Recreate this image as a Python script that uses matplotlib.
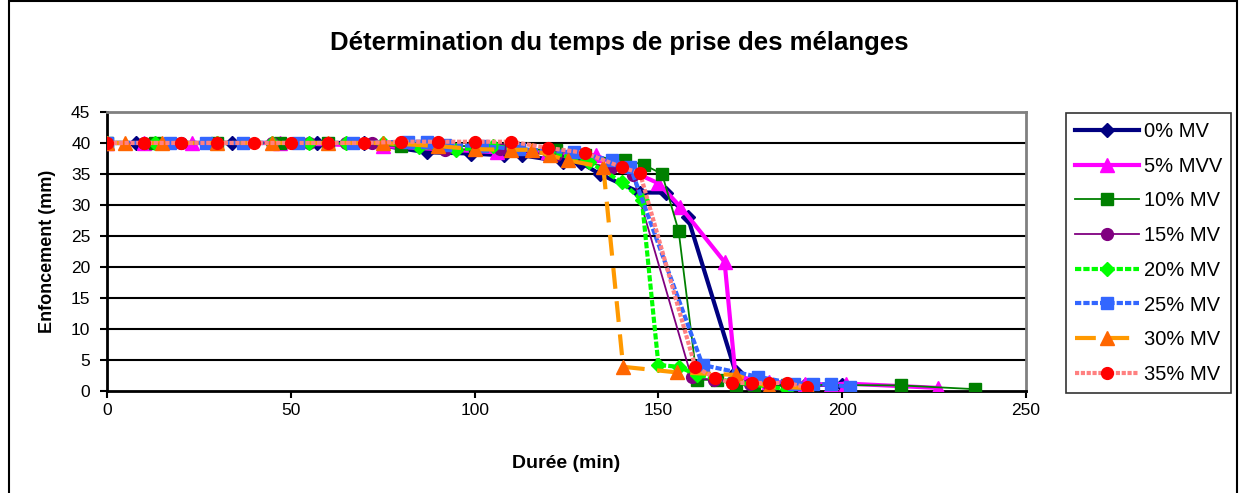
import matplotlib
matplotlib.use("Agg")
import matplotlib.pyplot as plt
import matplotlib.patches as patches

plt.rcParams['font.family'] = ['Liberation Sans', 'DejaVu Sans']

# Durée (min) / Enfoncement (mm) par mélange
t_0 = [0, 8, 34, 57, 70, 87, 99, 108, 113, 124, 129, 134, 145, 152, 158, 171, 175, 180, 185, 190, 200]
v_0 = [40, 40, 40, 40, 40, 38.5, 38.3, 38, 38, 37, 36.8, 35, 32, 32, 28, 3, 1.5, 1.2, 1, 1, 1]

t_5 = [0, 10, 23, 47, 75, 106, 120, 133, 150, 156, 168, 171, 180, 190, 197, 201, 226]
v_5 = [40, 40, 40, 40, 39.5, 38.5, 38.5, 38, 33.5, 29.7, 20.8, 2.3, 1.5, 1.2, 1, 1.2, 0.5]

t_10 = [0, 13, 30, 47, 60, 80, 100, 110, 122, 130, 141, 146, 151, 155.5, 160.5, 166, 171, 176, 185, 216, 236]
v_10 = [40, 40, 40, 40, 40, 39.5, 39.5, 39, 38.9, 38, 37.2, 36.5, 35, 25.8, 1.8, 1.8, 1, 1, 1, 0.9, 0.3]

t_15 = [0, 10, 20, 30, 45, 55, 65, 72, 92, 107, 122, 137, 143, 159, 165, 170, 175, 180]
v_15 = [40, 40, 40, 40, 40, 40, 40, 40, 38.9, 39, 38, 36, 34.8, 2.2, 1.8, 1.5, 1.2, 1]

t_20 = [0, 13, 30, 45, 55, 65, 75, 85, 95, 105, 120, 131, 140, 145.5, 150, 155.5, 160.5, 170, 185]
v_20 = [40, 40, 40, 40, 40, 40, 40, 39.4, 38.9, 39.5, 38.5, 37, 33.7, 30.8, 4.2, 3.9, 2.6, 1.5, 0.3]

t_25 = [0, 17, 27, 37, 52, 67, 82, 87, 92, 102, 112, 127, 137.5, 142.3, 162, 177, 187, 192, 197, 202]
v_25 = [40, 40, 40, 40, 40, 40, 40.2, 40.2, 39.7, 39.5, 39, 38.5, 37.2, 36.2, 4.2, 2.3, 1.2, 1.1, 1.1, 0.6]

t_30 = [0, 5, 15, 30, 45, 60, 75, 90, 100, 110, 115.5, 120.5, 125.4, 135, 140.4, 155, 171, 180, 190.7]
v_30 = [40, 40, 40, 40, 40, 40, 40, 39.5, 39, 38.9, 38.9, 38, 37.2, 36.1, 3.9, 3, 2.6, 0.7, 0.5]

t_35 = [0, 10, 20, 30, 40, 50, 60, 70, 80, 90, 100, 110, 120, 130, 140, 145, 160, 165.4, 170, 175.5, 180, 185, 190.4]
v_35 = [40, 40, 40, 40, 40, 40, 40, 40, 40.2, 40.2, 40.2, 40.2, 39.2, 38.4, 36.1, 35.1, 3.9, 2.1, 1.3, 1.3, 1.3, 1.3, 0.6]

labels = ["0% MV", "5% MVV", "10% MV", "15% MV", "20% MV", "25% MV", "30% MV", "35% MV"]
x_ticks = [0, 50, 100, 150, 200, 250]
y_ticks = [0, 5, 10, 15, 20, 25, 30, 35, 40, 45]

fig = plt.figure(figsize=(12.39, 4.93), dpi=100)
ax = fig.add_axes([0.0864, 0.2069, 0.7417, 0.566])

# horizontal gridlines in black
for y in y_ticks[1:-1]:
    ax.axhline(y, color='black', linewidth=1.5, zorder=1)

ax.plot(t_0, v_0, color='#000080', linewidth=3, marker='D', markersize=7.5, label=labels[0], zorder=3)
ax.plot(t_5, v_5, color='#FF00FF', linewidth=3, marker='^', markersize=9.5, label=labels[1], zorder=3)
ax.plot(t_10, v_10, color='#008000', linewidth=1.3, marker='s', markersize=8.5, label=labels[2], zorder=3)
ax.plot(t_15, v_15, color='#800080', linewidth=1.3, marker='o', markersize=8.5, label=labels[3], zorder=3)
ax.plot(t_20, v_20, color='#00FF00', linewidth=3, linestyle=(0, (1.5, 0.5)), marker='D', markersize=7.5,
        label=labels[4], zorder=3)
ax.plot(t_25, v_25, color='#3366FF', linewidth=3, linestyle=(0, (1.5, 0.5)), marker='s', markersize=8.5,
        label=labels[5], zorder=3)
ax.plot(t_30, v_30, color='#FF9900', linewidth=3, linestyle=(0, (5, 3)), marker='^', markersize=9.5,
        markerfacecolor='#FF6600', markeredgecolor='#FF6600', label=labels[6], zorder=3)
ax.plot(t_35, v_35, color='#FF8080', linewidth=3, linestyle=(0, (1, 0.4)), marker='o', markersize=8.5,
        markerfacecolor='#FF0000', markeredgecolor='#FF0000', label=labels[7], zorder=4)

ax.set_xlim(0, 250)
ax.set_ylim(0, 45)
ax.set_xticks(x_ticks)
ax.set_yticks(y_ticks)
ax.tick_params(labelsize=12.5, direction='out', length=5, width=1.5)
ax.tick_params(axis='y', pad=7)
for side in ['top', 'right']:
    ax.spines[side].set_color('#808080')
    ax.spines[side].set_linewidth(2)
for side in ['left', 'bottom']:
    ax.spines[side].set_color('black')
    ax.spines[side].set_linewidth(2)

ax.set_xlabel("Durée (min)", fontsize=14, fontweight='bold', labelpad=27)
ax.set_ylabel("Enfoncement (mm)", fontsize=13, fontweight='bold', labelpad=11)
fig.text(0.5, 0.912, "Détermination du temps de prise des mélanges", ha='center', va='center',
         fontsize=18.5, fontweight='bold')

leg = ax.legend(loc='upper left', bbox_to_anchor=(0.860, 0.771), bbox_transform=fig.transFigure,
                fontsize=14.5, frameon=True, fancybox=False, edgecolor='black', handlelength=3.2,
                handletextpad=0.25, labelspacing=0.78, borderpad=0.45, borderaxespad=0)
leg.get_frame().set_linewidth(1.2)

# outer chart border (bottom edge cut off)
fig.patches.append(patches.Rectangle((0.007, -0.02), 0.991, 1.017, transform=fig.transFigure,
                                     fill=False, edgecolor='black', linewidth=1.5))

fig.savefig("out.png", dpi=100)
